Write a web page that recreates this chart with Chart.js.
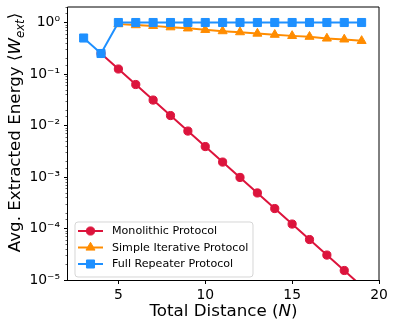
<!DOCTYPE html>
<html><head><meta charset="utf-8">
<script src="https://cdn.jsdelivr.net/npm/chart.js@4/dist/chart.umd.min.js"></script>
<style>html,body{margin:0;padding:0;background:#fff;}canvas{display:block;}</style>
</head><body>
<canvas id="c" width="396" height="328"></canvas>
<script>
// ---- data ----
const distances = [3,4,5,6,7,8,9,10,11,12,13,14,15,16,17,18,19];
const monolithic = [null,0.25,0.125,0.0625,0.0312,0.0156,0.0078,0.0039,0.00195,0.00098,0.00049,0.000244,0.000122,6.1e-5,3.05e-5,1.53e-5,7.6e-6];
const simpleIterative = [null,null,0.93,0.89,0.86,0.81,0.77,0.72,0.68,0.65,0.61,0.58,0.55,0.53,0.49,0.47,0.44];
const fullRepeater = [0.5,0.25,1,1,1,1,1,1,1,1,1,1,1,1,1,1,1];
const seriesNames = ['Monolithic Protocol','Simple Iterative Protocol','Full Repeater Protocol'];
const xTicks = [5,10,15,20];

// ---- styles ----
const FONT = 'DejaVu Sans';
const COLORS = ['#DC143C','#FF8C00','#1E90FF'];
const STYLES = ['circle','triangle','rect'];
const RADII = [4.1,5.2,5.7];

Chart.defaults.font.family = FONT;
Chart.defaults.color = '#000';

const SUP = {'0':'\u2070','1':'\u00B9','2':'\u00B2','3':'\u00B3','4':'\u2074','5':'\u2075','6':'\u2076','7':'\u2077','8':'\u2078','9':'\u2079','-':'\u207B'};
function isMajor(v){ const l = Math.log10(v); return Math.abs(l - Math.round(l)) < 1e-9; }
function powLabel(v){ const e = String(Math.round(Math.log10(v))); return '10' + e.split('').map(ch=>SUP[ch]).join(''); }

function pts(vals){ return distances.map((d,i)=>({x:d, y:vals[i]})).filter(p=>p.y !== null); }

function drawMarker(ctx, style, x, y, r, color){
  ctx.fillStyle = color; ctx.strokeStyle = color; ctx.lineWidth = 1;
  ctx.beginPath();
  if (style === 'circle') { ctx.arc(x, y, r, 0, Math.PI*2); }
  else if (style === 'triangle') {
    for (let k=0;k<3;k++){ const a = k*2*Math.PI/3; const px = x + Math.sin(a)*r, py = y - Math.cos(a)*r; if(k===0) ctx.moveTo(px,py); else ctx.lineTo(px,py);} ctx.closePath();
  } else { const s = r*Math.SQRT1_2; ctx.rect(x-s, y-s, 2*s, 2*s); }
  ctx.fill(); ctx.stroke();
}

function drawSegs(ctx, segs, cx, cy, rot){
  ctx.save(); ctx.translate(cx, cy); ctx.rotate(rot);
  ctx.textAlign = 'left'; ctx.textBaseline = 'alphabetic'; ctx.fillStyle = '#000';
  let total = 0;
  segs.forEach(s=>{ ctx.font = s.font; s.w = ctx.measureText(s.t).width; total += s.w; });
  let x = -total/2;
  segs.forEach(s=>{ ctx.font = s.font; ctx.fillText(s.t, x, s.dy || 0); x += s.w; });
  ctx.restore();
}

const deco = {
  id: 'deco',
  afterDatasetsDraw(chart){
    const ctx = chart.ctx, a = chart.chartArea, ys = chart.scales.y;
    ctx.save();
    // minor y ticks
    ctx.strokeStyle = '#000'; ctx.lineWidth = 0.6;
    ys.ticks.forEach(t=>{
      if (!isMajor(t.value)) {
        const y = Math.round(ys.getPixelForValue(t.value)) + 0.5;
        ctx.beginPath(); ctx.moveTo(a.left, y); ctx.lineTo(a.left - 2.5, y); ctx.stroke();
      }
    });
    // spines
    ctx.lineWidth = 1; ctx.strokeStyle = '#000';
    ctx.beginPath();
    ctx.moveTo(a.left - 0.5, a.top); ctx.lineTo(a.left - 0.5, a.bottom + 0.5);
    ctx.lineTo(a.right, a.bottom + 0.5); ctx.lineTo(a.right, a.top); ctx.lineTo(a.left - 0.5, a.top);
    ctx.stroke();
    // legend
    const lx = 75, ly = 222, lw = 178, lh = 55, rr = 3;
    ctx.beginPath();
    ctx.moveTo(lx+rr, ly); ctx.lineTo(lx+lw-rr, ly); ctx.quadraticCurveTo(lx+lw, ly, lx+lw, ly+rr);
    ctx.lineTo(lx+lw, ly+lh-rr); ctx.quadraticCurveTo(lx+lw, ly+lh, lx+lw-rr, ly+lh);
    ctx.lineTo(lx+rr, ly+lh); ctx.quadraticCurveTo(lx, ly+lh, lx, ly+lh-rr);
    ctx.lineTo(lx, ly+rr); ctx.quadraticCurveTo(lx, ly, lx+rr, ly); ctx.closePath();
    ctx.fillStyle = 'rgba(255,255,255,0.8)'; ctx.fill();
    ctx.strokeStyle = 'rgba(204,204,204,0.8)'; ctx.lineWidth = 1; ctx.stroke();
    seriesNames.forEach((name, i)=>{
      const y = 231 + i*16.5;
      ctx.strokeStyle = COLORS[i]; ctx.lineWidth = 2;
      ctx.beginPath(); ctx.moveTo(78, y); ctx.lineTo(103, y); ctx.stroke();
      drawMarker(ctx, STYLES[i], 90.5, y, RADII[i], COLORS[i]);
      ctx.fillStyle = '#000'; ctx.font = '11.1px "' + FONT + '"';
      ctx.textAlign = 'left'; ctx.textBaseline = 'middle';
      ctx.fillText(name, 112, y + 0.5);
    });
    // axis titles
    const F = '16.7px "' + FONT + '"', FI = 'italic 16.7px "' + FONT + '"', FS = 'italic 11.7px "' + FONT + '"';
    drawSegs(ctx, [{t:'Total Distance (', font:F},{t:'N', font:FI},{t:')', font:F}], (a.left + a.right)/2, 316, 0);
    drawSegs(ctx, [{t:'Avg. Extracted Energy \u27E8', font:F},{t:'W', font:FI},{t:'ext', font:FS, dy:3.5},{t:'\u27E9', font:F}], 20, 132.5, -Math.PI/2);
    ctx.restore();
  }
};

const datasets = [monolithic, simpleIterative, fullRepeater].map((vals, i)=>({
  label: seriesNames[i],
  data: pts(vals),
  borderColor: COLORS[i],
  backgroundColor: COLORS[i],
  borderWidth: 2,
  pointStyle: STYLES[i],
  pointRadius: RADII[i],
  pointHoverRadius: RADII[i],
  pointBorderWidth: 1,
  order: 3 - i,
  tension: 0
}));

new Chart(document.getElementById('c'), {
  type: 'line',
  data: { datasets },
  options: {
    responsive: false,
    animation: false,
    devicePixelRatio: 1,
    layout: { padding: { top: 7, right: 17, left: 0, bottom: 0 } },
    plugins: { legend: { display: false }, tooltip: { enabled: false } },
    scales: {
      x: {
        type: 'linear', min: 2.1, max: 20,
        afterBuildTicks(s){ s.ticks = xTicks.map(v=>({value:v})); },
        afterFit(s){ s.height = 48; s.paddingLeft = 0; s.paddingRight = 0; },
        grid: { display: true, drawOnChartArea: false, drawTicks: true, tickLength: 4, tickColor: '#000', tickWidth: 1 },
        border: { display: false },
        ticks: { padding: 3, autoSkip: false, maxRotation: 0, font: { size: 13.9 }, color: '#000' }
      },
      y: {
        type: 'logarithmic', min: 1e-5, max: 2,
        afterFit(s){ s.width = 68; s.paddingTop = 0; s.paddingBottom = 0; },
        grid: { display: true, drawOnChartArea: false, drawTicks: true, tickLength: 4,
          tickColor: (c)=> (c.tick && isMajor(c.tick.value)) ? '#000' : 'rgba(0,0,0,0)', tickWidth: 1 },
        border: { display: false },
        ticks: { autoSkip: false, padding: 4, font: { size: 13.9 }, color: '#000',
          callback: (v)=> isMajor(v) ? powLabel(v) : '' }
      }
    }
  },
  plugins: [deco]
});
</script>
</body></html>
